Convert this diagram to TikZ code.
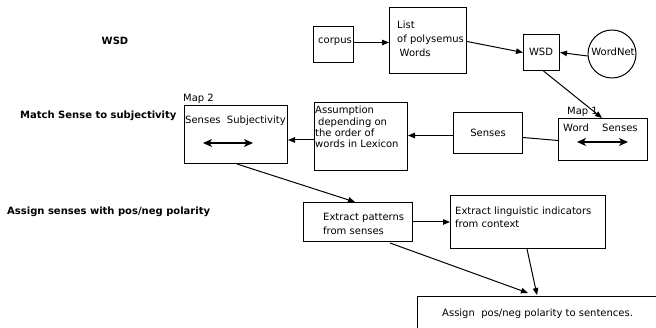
\documentclass[tikz,border=0pt]{standalone}
\usepackage{fontspec}
\setmainfont{DejaVu Sans}
\usetikzlibrary{arrows.meta,calc}
\begin{document}
\begin{tikzpicture}[x=1pt,y=-1pt,
  box/.style={draw,line width=1pt,inner sep=0pt,anchor=north west},
  txt/.style={inner sep=0pt,anchor=west,align=left},
  lbl/.style={inner sep=0pt,anchor=west,font=\bfseries},
  arr/.style={line width=1pt,-{Triangle[length=7pt,width=5.5pt]}},
  plain/.style={line width=1pt},
  dbl/.style={line width=1.3pt,{Stealth[length=9pt,width=8pt,inset=2.5pt]}-{Stealth[length=9pt,width=8pt,inset=2.5pt]}}
]
\useasboundingbox (0,0) rectangle (656,328);
\fill[white] (0,0) rectangle (656,328);

% section labels
\node[inner sep=0pt,font=\bfseries] (lwsd) at (115,41) {WSD};
\node[lbl] (lmatch) at (20,116) {Match Sense to subjectivity};
\node[lbl] (lassign) at (7,212) {Assign senses with pos/neg polarity};

% boxes
\node[box,minimum width=40pt,minimum height=36pt] (corpus) at (313,26) {};
\node[txt] (tcorpus) at (318,42) {corpus};
\node[box,minimum width=77pt,minimum height=66pt] (list) at (389,7) {};
\node[txt,font=\fontsize{10}{14}\selectfont] (tlist) at (397,39) {List\\of polysemus\\\hspace{2.5pt}Words};
\node[box,minimum width=36pt,minimum height=36pt] (wsd) at (523,34) {};
\node[inner sep=0pt] (twsd) at (541,52) {WSD};
\node[draw,line width=1pt,circle,minimum size=48pt,inner sep=0pt] (wordnet) at (612,54) {};
\node[inner sep=0pt] (twordnet) at (613,52) {WordNet};

\node[box,minimum width=89pt,minimum height=42pt] (map1) at (558,118) {};
\node[txt] (lmap1) at (567,112) {Map 1};
\node[txt] (tword) at (563,128) {Word};
\node[txt] (tsenses1) at (602,128) {Senses};
\coordinate (m1a) at (577,142);
\coordinate (m1b) at (628,142);

\node[box,minimum width=69pt,minimum height=41pt] (senses) at (453,112) {};
\node[inner sep=0pt] (tsenses) at (488,133) {Senses};

\node[box,minimum width=93pt,minimum height=68pt] (assume) at (314,102) {};
\node[txt,font=\fontsize{10}{11.4}\selectfont] (tassume) at (315,127) {Assumption\\\hspace{3pt}depending on\\the order of\\words in Lexicon};

\node[box,minimum width=103pt,minimum height=58pt] (map2) at (184,105) {};
\node[txt] (lmap2) at (183,99) {Map 2};
\node[txt] (tmap2) at (185,121) {Senses\ \ Subjectivity};
\coordinate (m2a) at (203,143);
\coordinate (m2b) at (253,143);

\node[box,minimum width=109pt,minimum height=39pt] (patterns) at (303,202) {};
\node[txt,font=\fontsize{10}{14}\selectfont] (tpatterns) at (323,224) {Extract patterns\\from senses};
\node[box,minimum width=155pt,minimum height=53pt] (ling) at (450,195) {};
\node[txt,font=\fontsize{10}{13}\selectfont] (tling) at (455,217.5) {Extract linguistic indicators\\from context};
\node[box,minimum width=260pt,minimum height=50pt] (assign) at (417,296) {};
\node[txt] (tassign) at (442,314) {Assign\ \ pos/neg polarity to sentences.};

% connectors
\draw[arr] ([yshift=2pt]corpus.east) -- ([yshift=2pt]corpus.east -| list.west);
\draw[arr] ([yshift=-1pt]list.east) -- (wsd.west);
\draw[arr] ([yshift=-2pt]wordnet.west) -- (wsd.east);
\draw[arr] ([xshift=2pt]wsd.south) -- ($(map1.north west)+(44,0)$);
\draw[plain] ([yshift=-1pt]map1.west) -- ([yshift=-4.5pt]senses.east);
\draw[arr] ([yshift=-2.5pt]senses.west) -- ([yshift=-2.5pt]senses.west -| assume.east);
\draw[arr] ($(assume.north west)+(0,38)$) -- ($(map2.north east)+(0,35)$);
\draw[arr] ([xshift=1pt]map2.south) -- ($(patterns.north west)+(52,0)$);
\draw[arr] (patterns.east) -- (patterns.east -| ling.west);
\draw[arr] ($(patterns.south west)+(87,1)$) -- ($(assign.north west)+(111,-3)$);
\draw[arr] ($(ling.south west)+(77,0)$) -- ($(assign.north west)+(120,-1)$);
\draw[dbl] (m1a) -- (m1b);
\draw[dbl] (m2a) -- (m2b);
\end{tikzpicture}
\end{document}
